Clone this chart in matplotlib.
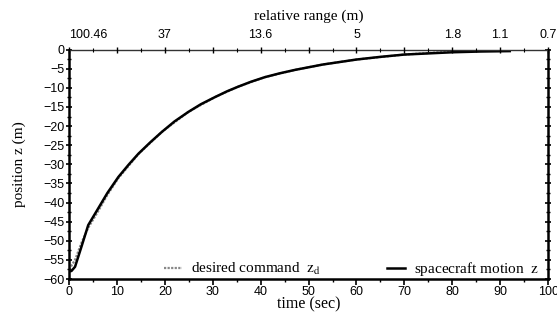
import matplotlib
matplotlib.use("Agg")
import matplotlib.pyplot as plt
from matplotlib.ticker import MultipleLocator

plt.rcParams['mathtext.fontset'] = 'stix'

# spacecraft motion z (m) vs time (sec)
t_motion = [0, 0.5, 1.25, 2.6, 4.0, 6.1, 8.0, 10.3, 12.5, 14.5, 17.0, 19.4, 22.0, 24.9,
            27.5, 30.5, 33.0, 35.3, 38.0, 40.9, 44.0, 47.2, 53.0, 60.0, 65.0, 70.0,
            75.0, 80.0, 86.0, 92.0]
z_motion = [-58.0, -57.9, -56.8, -51.5, -45.9, -41.5, -37.5, -33.3, -30.0, -27.2, -24.2,
            -21.5, -18.8, -16.3, -14.3, -12.4, -10.9, -9.7, -8.4, -7.2, -6.2, -5.3, -3.9,
            -2.6, -1.9, -1.3, -1.0, -0.7, -0.5, -0.4]

# desired command z_d
t_cmd = [0, 0.5, 1.25, 2.6, 4.0, 6.1, 8.0, 10.3, 14.5, 19.4, 24.9, 30.5, 35.3, 40.9,
         47.2, 53.0, 60.0, 70.0, 80.0, 86.0, 92.0]
z_cmd = [-57.5, -56.5, -55.0, -50.5, -46.6, -42.2, -38.0, -33.6, -27.3, -21.5, -16.3,
         -12.4, -9.7, -7.2, -5.3, -3.9, -2.6, -1.3, -0.5, -0.2, -0.1]

# relative range labels on the top axis
range_ticks = [0, 10, 20, 30, 40, 50, 60, 70, 80, 90, 100]
range_labels = ['100.46', '', '37', '', '13.6', '', '5', '', '1.8', '1.1', '0.7']

fig = plt.figure(figsize=(5.57, 3.22), dpi=100)
ax = fig.add_axes([0.124, 0.1335, 0.86, 0.7125])

ax.plot(t_cmd, z_cmd, color='#888888', lw=1.6, ls=(0, (1, 0.6)), label=r'desired command  $\mathrm{z_d}$')
ax.plot(t_motion, z_motion, color='black', lw=1.8, label=r'spacecraft motion  $\mathrm{z}$')

ax.set_xlim(0, 100)
ax.set_ylim(-60, 0)
ax.xaxis.set_major_locator(MultipleLocator(10))
ax.xaxis.set_minor_locator(MultipleLocator(5))
ax.yaxis.set_major_locator(MultipleLocator(5))
ax.yaxis.set_minor_locator(MultipleLocator(2.5))

tick_font = 'Liberation Sans'
for lab in ax.get_xticklabels() + ax.get_yticklabels():
    lab.set_fontfamily(tick_font)
ax.tick_params(axis='x', which='major', direction='out', length=4, width=1.2, labelsize=9, pad=1)
ax.tick_params(axis='x', which='minor', direction='out', length=2.5, width=1)
ax.tick_params(axis='y', which='major', direction='inout', length=5, width=1.2, labelsize=9, pad=1,
               right=True)
ax.tick_params(axis='y', which='minor', direction='inout', length=3, width=1, right=True)

for side in ['left', 'bottom', 'right']:
    ax.spines[side].set_linewidth(1.8)
ax.spines['top'].set_linewidth(1.0)
ax.spines['top'].set_linestyle((0, (1, 1)))
ax.spines['top'].set_color('#333333')

ax.set_xlabel('time (sec)', family='Liberation Serif', fontsize=11.5, labelpad=-1)
ax.set_ylabel('position z (m)', family='Liberation Serif', fontsize=11, labelpad=12)

top = ax.twiny()
top.set_xlim(ax.get_xlim())
top.set_xticks(range_ticks)
top.set_xticklabels(range_labels, family=tick_font, fontsize=9)
top.xaxis.set_minor_locator(MultipleLocator(5))
top.tick_params(axis='x', which='major', direction='inout', length=4, width=1, pad=4)
top.tick_params(axis='x', which='minor', direction='inout', length=2.5, width=0.8)
top.get_xticklabels()[0].set_horizontalalignment('left')
for s in top.spines.values():
    s.set_visible(False)
top.set_xlabel('relative range (m)', family='Liberation Serif', fontsize=11, labelpad=7)

leg = ax.legend(loc='lower center', bbox_to_anchor=(0.589, -0.055), ncol=2, frameon=False,
                prop={'family': 'Liberation Serif', 'size': 11}, handlelength=1.2,
                handletextpad=0.6, columnspacing=4.3)

fig.savefig('out.png', dpi=100)
